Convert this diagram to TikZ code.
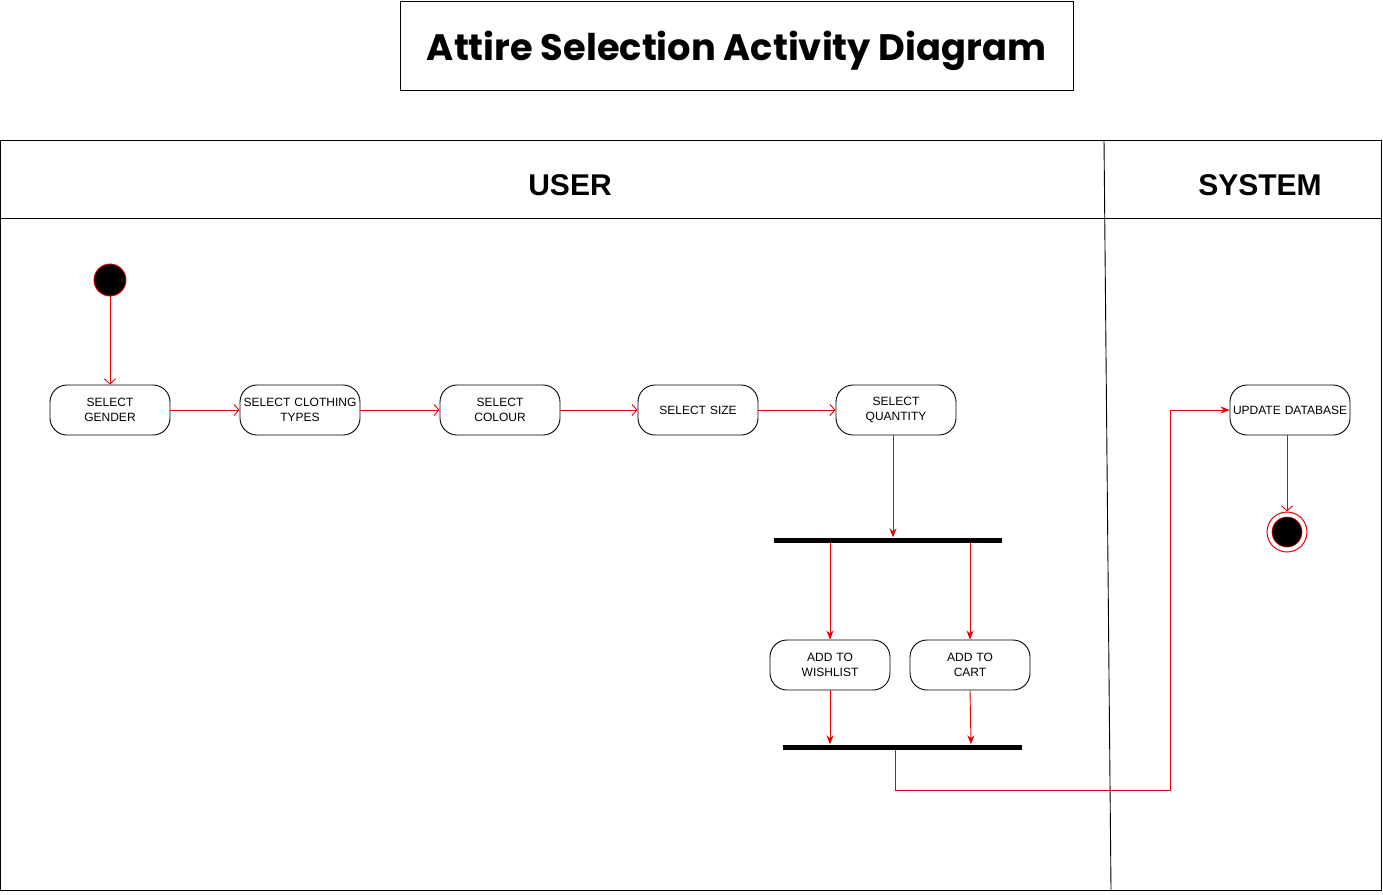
\documentclass[tikz,border=0pt]{standalone}
\usepackage{fontspec}
\setmainfont{Liberation Sans}
\newfontfamily\titlefont{Poppins}
\usetikzlibrary{arrows.meta,calc}
\definecolor{flowred}{RGB}{230,0,0}
\begin{document}
\begin{tikzpicture}[x=1pt,y=-1pt,
  action/.style={draw=black,line width=0.9pt,rounded corners=17pt,minimum width=120pt,minimum height=50pt,
    align=center,text width=118pt,inner sep=1pt,font=\fontsize{12}{15}\selectfont},
  bar/.style={fill=black,inner sep=0pt,minimum height=5pt},
  flow/.style={draw=flowred,line width=0.9pt},
  openarrow/.style={flow,-{Straight Barb[length=5pt,width=11pt]}},
  fillarrow/.style={flow,-{Stealth[length=9pt,width=7pt]}},
  lane/.style={font=\fontsize{30}{36}\selectfont\bfseries}]
\useasboundingbox (0,0) rectangle (1383,894);
% title
\node[draw=black,line width=0.9pt,minimum width=673pt,minimum height=89pt,inner sep=0pt] (title) at (736.5,45.5) {};
\node[inner sep=0pt] (titletext) at (736.5,51)
  {\resizebox{619pt}{!}{\titlefont\bfseries Attire Selection Activity Diagram}};
% swimlanes
\draw[line width=0.9pt] (0,140) rectangle (1381,890);
\coordinate (hl) at (0,218);
\coordinate (hr) at (1381,218);
\draw[line width=0.9pt] (hl) -- (hr);
\coordinate (dt) at (1104,140);
\coordinate (db) at (1111,890);
\draw[line width=0.9pt] (dt) -- (db);
\node[lane] (user) at (570,185) {USER};
\node[lane] (system) at (1260,185) {SYSTEM};
% nodes
\node[circle,fill=black,draw=flowred,line width=0.9pt,minimum size=32pt,inner sep=0pt] (start) at (110,280) {};
\node[action] (gender) at (110,410) {SELECT\\GENDER};
\node[action] (cloth) at (300,410) {SELECT CLOTHING\\TYPES};
\node[action] (colour) at (500,410) {SELECT\\COLOUR};
\node[action] (size) at (698,410) {SELECT SIZE};
\node[action] (qty) at (896,410) {SELECT\\QUANTITY};
\node[bar,minimum width=228pt] (fork) at (888,540) {};
\node[action] (wish) at (830,665) {ADD TO\\WISHLIST};
\node[action] (cart) at (970,665) {ADD TO\\CART};
\node[bar,minimum width=239pt] (join) at (902.5,747) {};
\node[action] (upd) at (1290,410) {UPDATE DATABASE};
\node[circle,draw=flowred,line width=1pt,minimum size=40pt,inner sep=0pt] (end) at (1287,532) {};
\filldraw[fill=black,draw=flowred,line width=0.6pt] (end.center) circle (15);
% connectors
\draw[openarrow] (start) -- (gender);
\draw[openarrow] (gender) -- (cloth);
\draw[openarrow] (cloth) -- (colour);
\draw[openarrow] (colour) -- (size);
\draw[openarrow] (size) -- (qty);
\draw[fillarrow] ($(qty.south)+(-3,0)$) -- ($(qty.south |- fork.north)+(-3,0)$);
\draw[fillarrow] (wish.north |- fork.south) -- (wish.north);
\draw[fillarrow] (cart.north |- fork.south) -- (cart.north);
\draw[fillarrow] (wish.south) -- (wish.south |- join.north);
\draw[fillarrow] (cart.south) -- ($(cart.south |- join.north)+(1,0)$);
\coordinate (turn) at (1170,790);
\draw[fillarrow] ($(join.south)+(-7.5,0)$) |- (turn) |- (upd.west);
\draw[openarrow] (upd.south -| end) -- (end.north);
\end{tikzpicture}
\end{document}
